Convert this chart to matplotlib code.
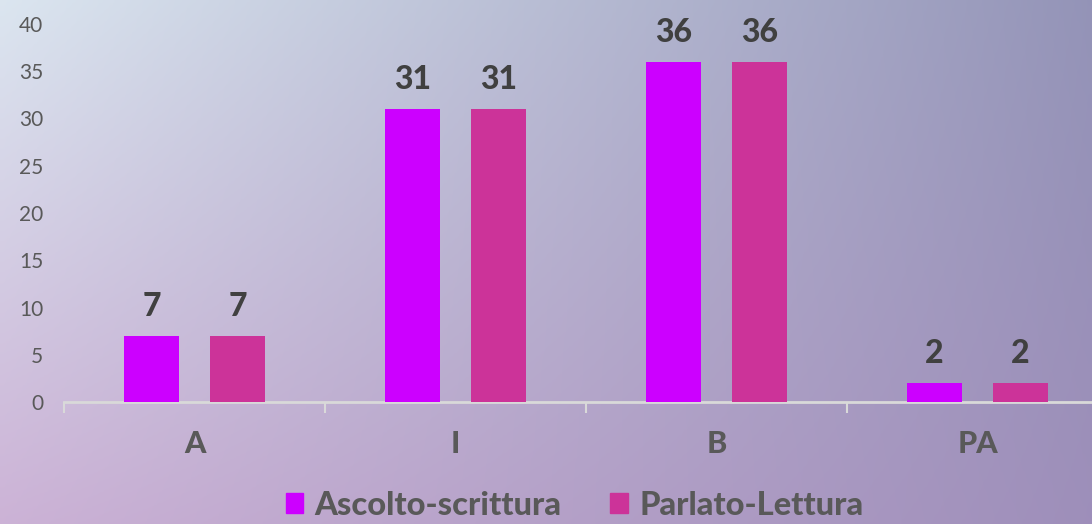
import numpy as np
import matplotlib.pyplot as plt
from matplotlib.patches import Patch

categories = ['A', 'I', 'B', 'PA']
ascolto = [7, 31, 36, 2]
parlato = [7, 31, 36, 2]
series_names = ['Ascolto-scrittura', 'Parlato-Lettura']
colors = ['#CC00FF', '#CC3399']

plt.rcParams['font.family'] = ['Lato', 'DejaVu Sans']

fig = plt.figure(figsize=(10.92, 5.24), dpi=100)

# background gradient (galaxy-like lavender)
bg = fig.add_axes([0, 0, 1, 1], zorder=-10)
corners = np.array([[[0.86, 0.90, 0.94], [0.58, 0.58, 0.72]],
                    [[0.80, 0.70, 0.84], [0.62, 0.56, 0.73]]])
t = np.linspace(0, 1, 200)
yy, xx = np.meshgrid(t, t, indexing='ij')
img = (corners[0, 0] * ((1 - yy) * (1 - xx))[..., None]
       + corners[0, 1] * ((1 - yy) * xx)[..., None]
       + corners[1, 0] * (yy * (1 - xx))[..., None]
       + corners[1, 1] * (yy * xx)[..., None])
bg.imshow(img, aspect='auto', extent=[0, 1, 0, 1])
bg.axis('off')

ax = fig.add_axes([64 / 1092, (524 - 402) / 524, 1044 / 1092, 378 / 524])
ax.patch.set_alpha(0)

x = np.arange(len(categories))
off = 0.165
w = 0.21
ax.bar(x - off, ascolto, w, color=colors[0], zorder=3)
ax.bar(x + off, parlato, w, color=colors[1], zorder=3)

for xi, v in zip(x, ascolto):
    ax.annotate(str(v), (xi - off, v), xytext=(0, 11), textcoords='offset points',
                ha='center', va='bottom', fontsize=23, fontweight='black', color='#404040')
for xi, v in zip(x, parlato):
    ax.annotate(str(v), (xi + off, v), xytext=(0, 11), textcoords='offset points',
                ha='center', va='bottom', fontsize=23, fontweight='black', color='#404040')

ax.set_xlim(-0.5, 3.5)
ax.set_ylim(0, 40)
ax.set_yticks(range(0, 41, 5))
ax.tick_params(axis='y', length=0, labelsize=15, labelcolor='#595959', pad=15)
ax.set_xticks(x)
ax.set_xticklabels(categories)
ax.tick_params(axis='x', length=0, labelsize=22, labelcolor='#595959', pad=20)
for lbl in ax.get_xticklabels():
    lbl.set_fontweight('black')

# minor ticks at category boundaries
ax.set_xticks(np.arange(-0.5, 4, 1), minor=True)
ax.tick_params(axis='x', which='minor', length=8, width=1.5, color='#d9d9d9', direction='out')

for s in ['top', 'right', 'left']:
    ax.spines[s].set_visible(False)
ax.spines['bottom'].set_color('#d9d9d9')
ax.spines['bottom'].set_linewidth(2)

handles = [Patch(color=colors[0]), Patch(color=colors[1])]
fig.legend(handles, series_names, loc='center', bbox_to_anchor=(0.526, 0.036), ncol=2,
           frameon=False, handlelength=0.53, handleheight=0.53, handletextpad=0.35,
           columnspacing=1.5, prop={'size': 23.5, 'weight': 'black'}, labelcolor='#595959')

fig.savefig('out.png', dpi=100)
